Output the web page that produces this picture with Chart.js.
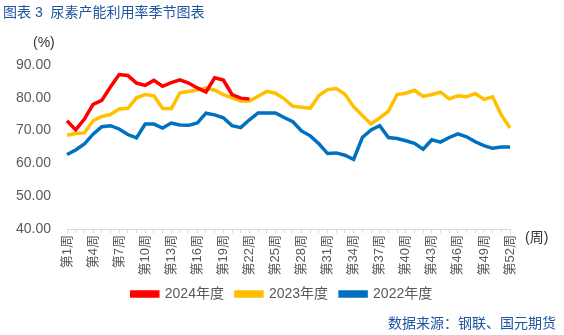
<!DOCTYPE html>
<html>
<head>
<meta charset="utf-8">
<script src="https://cdn.jsdelivr.net/npm/chart.js@4.4.1/dist/chart.umd.min.js"></script>
<style>
    html, body { margin: 0; padding: 0; background: #fff; }
    #wrap { position: relative; width: 564px; height: 335px; }
</style>
</head>
<body>
<div id="wrap"><canvas id="urea"></canvas></div>
<script>
const weeks = Array.from({ length: 52 }, (_, i) => '第' + (i + 1) + '周');

const rate2024 = [73.0, 70.2, 73.5, 78.0, 79.2, 83.3, 87.1, 86.8, 84.5, 83.8, 85.3, 83.5, 84.6, 85.5, 84.5, 83.0,
    81.8, 86.1, 85.4, 81.0, 79.9, 79.6];

const rate2023 = [68.6, 69.1, 69.3, 73.0, 74.3, 74.9, 76.6, 76.8, 80.0, 81.0, 80.6, 76.8, 76.7, 81.5, 81.9, 82.4,
    83.0, 82.3, 81.0, 80.0, 79.0, 79.0, 80.5, 82.0, 81.4, 79.7, 77.4, 77.1, 76.8, 80.7, 82.5, 82.8,
    81.1, 77.3, 74.6, 72.0, 73.9, 75.9, 81.0, 81.4, 82.3, 80.4, 81.0, 81.7, 79.7, 80.6, 80.3, 81.3,
    79.5, 80.3, 74.8, 70.8];

const rate2022 = [62.7, 64.1, 65.9, 68.9, 71.2, 71.5, 70.5, 68.8, 67.8, 72.0, 72.0, 70.8, 72.3, 71.7, 71.6, 72.3,
    75.3, 74.8, 73.9, 71.5, 70.9, 73.3, 75.4, 75.4, 75.4, 74.0, 72.7, 69.9, 68.4, 66.0, 63.0, 63.2,
    62.5, 61.2, 67.9, 70.2, 71.5, 67.9, 67.6, 66.9, 66.1, 64.3, 67.2, 66.5, 67.9, 69.0, 68.1, 66.6,
    65.4, 64.6, 65.0, 65.0];

const seriesNames = ['2024年度', '2023年度', '2022年度'];
const seriesColors = ['#FF0000', '#FFC000', '#0070C0'];

const FONT = '"Liberation Sans", "Noto Sans CJK SC", sans-serif';

// title, units and source line drawn straight onto the canvas
const extraText = {
    id: 'extraText',
    afterDraw(chart) {
        const ctx = chart.ctx;
        const area = chart.chartArea;
        ctx.save();
        ctx.textBaseline = 'middle';

        ctx.fillStyle = '#1F55A0';
        ctx.font = '14px ' + FONT;
        ctx.textAlign = 'left';
        ctx.fillText('图表 3  尿素产能利用率季节图表', 3, 13);

        ctx.fillStyle = '#333333';
        ctx.font = '14px ' + FONT;
        ctx.fillText('(%)', 33, 43);
        ctx.fillText('(周)', area.right + 15, 238);

        ctx.fillStyle = '#1F55A0';
        ctx.font = '14px ' + FONT;
        ctx.textAlign = 'right';
        ctx.fillText('数据来源：钢联、国元期货', 556, 324);
        ctx.restore();
    }
};

const ctx = document.getElementById('urea');

const data = {
    labels: weeks,
    datasets: [
        { label: seriesNames[0], data: rate2024 },
        { label: seriesNames[1], data: rate2023 },
        { label: seriesNames[2], data: rate2022 }
    ].map((ds, i) => ({
        ...ds,
        borderColor: seriesColors[i],
        backgroundColor: seriesColors[i],
        borderWidth: 3.5,
        pointRadius: 0,
        tension: 0,
        fill: false
    }))
};

const options = {
    responsive: true,
    maintainAspectRatio: false,
    animation: false,
    layout: {
        padding: { top: 65, right: 0, bottom: 24, left: 0 }
    },
    plugins: {
        title: { display: false },
        tooltip: { enabled: false },
        legend: {
            position: 'bottom',
            labels: {
                color: '#595959',
                boxWidth: 26,
                boxHeight: 4,
                padding: 12,
                font: { family: FONT, size: 14 }
            }
        }
    },
    scales: {
        x: {
            offset: false,
            afterFit: (scale) => { scale.height = 46; },
            border: { color: '#D9D9D9' },
            grid: {
                drawOnChartArea: false,
                color: '#D9D9D9',
                tickLength: 4
            },
            ticks: {
                autoSkip: false,
                maxRotation: 90,
                minRotation: 90,
                padding: 2,
                color: '#595959',
                font: { family: FONT, size: 13 },
                callback: function (value, index) {
                    return index % 3 === 0 ? this.getLabelForValue(value) : '';
                }
            }
        },
        y: {
            min: 40,
            max: 90,
            afterFit: (scale) => { scale.width = 67; },
            border: { display: false },
            grid: { display: false },
            ticks: {
                stepSize: 10,
                padding: 8,
                color: '#595959',
                font: { family: FONT, size: 14 },
                callback: (value) => value.toFixed(2)
            }
        },
        // empty right-hand axis that only reserves room for the (周) label
        yRight: {
            position: 'right',
            display: true,
            afterFit: (scale) => { scale.width = 54; },
            border: { display: false },
            grid: { display: false },
            ticks: { display: false }
        }
    }
};

const chart = new Chart(ctx, {
    type: 'line',
    data: data,
    options: options,
    plugins: [extraText]
});
</script>
</body>
</html>
